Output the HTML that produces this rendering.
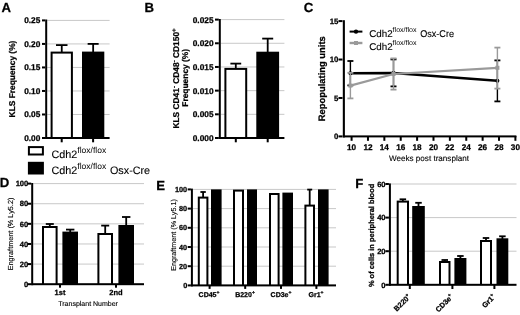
<!DOCTYPE html>
<html><head><meta charset="utf-8"><style>
html,body{margin:0;padding:0;background:#fff;width:520px;height:315px;overflow:hidden;}
svg{display:block;filter:grayscale(1);}
text{font-family:"Liberation Sans", sans-serif;text-rendering:geometricPrecision;stroke:#000;stroke-width:0.25px;}
text.r{stroke-width:0.12px;}
tspan.s{stroke-width:0;}
</style></head><body>
<svg width="520" height="315" viewBox="0 0 520 315" font-family='"Liberation Sans", sans-serif'>
<rect width="520" height="315" fill="#fff"/>
<text x="1.60" y="12.00" font-size="13.2" font-weight="bold" text-anchor="start" fill="#000">A</text>
<rect x="47.20" y="113.98" width="62.40" height="1.00" fill="#c8c8c8"/>
<rect x="47.20" y="90.46" width="62.40" height="1.00" fill="#c8c8c8"/>
<rect x="47.20" y="66.94" width="62.40" height="1.00" fill="#c8c8c8"/>
<rect x="47.20" y="43.42" width="62.40" height="1.00" fill="#c8c8c8"/>
<rect x="47.20" y="19.90" width="62.40" height="1.00" fill="#c8c8c8"/>
<rect x="50.60" y="51.60" width="22.30" height="86.40" fill="#000"/>
<rect x="52.60" y="53.60" width="18.30" height="84.40" fill="#fff"/>
<rect x="60.85" y="45.10" width="1.80" height="7.50" fill="#000"/>
<rect x="56.00" y="44.20" width="11.50" height="1.80" fill="#000"/>
<rect x="82.00" y="51.60" width="22.30" height="86.40" fill="#000"/>
<rect x="92.25" y="43.90" width="1.80" height="8.70" fill="#000"/>
<rect x="87.65" y="43.00" width="11.00" height="1.80" fill="#000"/>
<rect x="45.20" y="19.50" width="2.00" height="119.50" fill="#000"/>
<rect x="45.20" y="137.00" width="64.40" height="2.00" fill="#000"/>
<rect x="42.00" y="137.00" width="3.20" height="2.00" fill="#000"/>
<text x="40.30" y="140.99" font-size="8.3" font-weight="bold" text-anchor="end" fill="#000">0.00</text>
<rect x="42.00" y="113.48" width="3.20" height="2.00" fill="#000"/>
<text x="40.30" y="117.47" font-size="8.3" font-weight="bold" text-anchor="end" fill="#000">0.05</text>
<rect x="42.00" y="89.96" width="3.20" height="2.00" fill="#000"/>
<text x="40.30" y="93.95" font-size="8.3" font-weight="bold" text-anchor="end" fill="#000">0.10</text>
<rect x="42.00" y="66.44" width="3.20" height="2.00" fill="#000"/>
<text x="40.30" y="70.43" font-size="8.3" font-weight="bold" text-anchor="end" fill="#000">0.15</text>
<rect x="42.00" y="42.92" width="3.20" height="2.00" fill="#000"/>
<text x="40.30" y="46.91" font-size="8.3" font-weight="bold" text-anchor="end" fill="#000">0.20</text>
<rect x="42.00" y="19.40" width="3.20" height="2.00" fill="#000"/>
<text x="40.30" y="23.39" font-size="8.3" font-weight="bold" text-anchor="end" fill="#000">0.25</text>
<rect x="60.70" y="138.00" width="2.00" height="4.30" fill="#000"/>
<rect x="92.10" y="138.00" width="2.00" height="4.30" fill="#000"/>
<text x="14.90" y="79.00" font-size="8.4" font-weight="bold" text-anchor="middle" fill="#000" transform="rotate(-90 14.90 79.00)">KLS Frequency (%)</text>
<rect x="27.90" y="146.10" width="16.00" height="9.40" fill="#000"/>
<rect x="29.90" y="148.10" width="12.00" height="5.40" fill="#fff"/>
<rect x="27.90" y="161.80" width="16.00" height="12.70" fill="#000"/>
<text class="r" x="51.5" y="158.4" font-size="10.8">Cdh2<tspan class="s" font-size="8.5" dy="-5.0">flox/flox</tspan></text>
<text class="r" x="51.5" y="173.9" font-size="10.8">Cdh2<tspan class="s" font-size="8.5" dy="-5.0">flox/flox</tspan><tspan dy="5.0" dx="0.8"> Osx-Cre</tspan></text>
<text x="144.40" y="11.50" font-size="13.2" font-weight="bold" text-anchor="start" fill="#000">B</text>
<rect x="220.80" y="113.82" width="63.60" height="1.00" fill="#c8c8c8"/>
<rect x="220.80" y="90.14" width="63.60" height="1.00" fill="#c8c8c8"/>
<rect x="220.80" y="66.46" width="63.60" height="1.00" fill="#c8c8c8"/>
<rect x="220.80" y="42.78" width="63.60" height="1.00" fill="#c8c8c8"/>
<rect x="220.80" y="19.10" width="63.60" height="1.00" fill="#c8c8c8"/>
<rect x="224.40" y="67.90" width="22.80" height="70.10" fill="#000"/>
<rect x="226.40" y="69.90" width="18.80" height="68.10" fill="#fff"/>
<rect x="234.90" y="63.60" width="1.80" height="5.30" fill="#000"/>
<rect x="230.40" y="62.70" width="10.80" height="1.80" fill="#000"/>
<rect x="256.30" y="51.70" width="22.80" height="86.30" fill="#000"/>
<rect x="266.80" y="38.60" width="1.80" height="14.10" fill="#000"/>
<rect x="262.20" y="37.70" width="11.00" height="1.80" fill="#000"/>
<rect x="218.80" y="19.00" width="2.00" height="120.00" fill="#000"/>
<rect x="218.80" y="137.00" width="65.60" height="2.00" fill="#000"/>
<rect x="215.00" y="137.00" width="3.80" height="2.00" fill="#000"/>
<text x="213.50" y="140.99" font-size="8.3" font-weight="bold" text-anchor="end" fill="#000">0.000</text>
<rect x="215.00" y="113.32" width="3.80" height="2.00" fill="#000"/>
<text x="213.50" y="117.31" font-size="8.3" font-weight="bold" text-anchor="end" fill="#000">0.005</text>
<rect x="215.00" y="89.64" width="3.80" height="2.00" fill="#000"/>
<text x="213.50" y="93.63" font-size="8.3" font-weight="bold" text-anchor="end" fill="#000">0.010</text>
<rect x="215.00" y="65.96" width="3.80" height="2.00" fill="#000"/>
<text x="213.50" y="69.95" font-size="8.3" font-weight="bold" text-anchor="end" fill="#000">0.015</text>
<rect x="215.00" y="42.28" width="3.80" height="2.00" fill="#000"/>
<text x="213.50" y="46.27" font-size="8.3" font-weight="bold" text-anchor="end" fill="#000">0.020</text>
<rect x="215.00" y="18.60" width="3.80" height="2.00" fill="#000"/>
<text x="213.50" y="22.59" font-size="8.3" font-weight="bold" text-anchor="end" fill="#000">0.025</text>
<rect x="234.80" y="138.00" width="2.00" height="4.30" fill="#000"/>
<rect x="266.70" y="138.00" width="2.00" height="4.30" fill="#000"/>
<text x="179.3" y="78.5" font-size="8.4" font-weight="bold" text-anchor="middle" transform="rotate(-90 179.3 78.5)">KLS CD41<tspan font-size="6" dy="-3.4">-</tspan><tspan dy="3.4"> CD48</tspan><tspan font-size="6" dy="-3.4">-</tspan><tspan dy="3.4"> CD150</tspan><tspan font-size="6" dy="-3.4">+</tspan></text>
<text x="188.00" y="77.80" font-size="8.4" font-weight="bold" text-anchor="middle" fill="#000" transform="rotate(-90 188.00 77.80)">Frequency (%)</text>
<text x="303.80" y="11.60" font-size="13.2" font-weight="bold" text-anchor="start" fill="#000">C</text>
<rect x="342.80" y="20.20" width="2.10" height="117.20" fill="#000"/>
<rect x="342.80" y="135.40" width="173.60" height="2.00" fill="#000"/>
<rect x="338.50" y="135.40" width="4.00" height="2.00" fill="#000"/>
<text x="338.40" y="139.30" font-size="7.8" font-weight="bold" text-anchor="end" fill="#000">0</text>
<rect x="338.50" y="96.97" width="4.00" height="2.00" fill="#000"/>
<text x="338.40" y="100.87" font-size="7.8" font-weight="bold" text-anchor="end" fill="#000">5</text>
<rect x="338.50" y="58.53" width="4.00" height="2.00" fill="#000"/>
<text x="338.40" y="62.43" font-size="7.8" font-weight="bold" text-anchor="end" fill="#000">10</text>
<rect x="338.50" y="20.09" width="4.00" height="2.00" fill="#000"/>
<text x="338.40" y="23.99" font-size="7.8" font-weight="bold" text-anchor="end" fill="#000">15</text>
<rect x="350.59" y="136.00" width="2.00" height="4.80" fill="#000"/>
<text x="351.59" y="150.00" font-size="8.2" font-weight="bold" text-anchor="middle" fill="#000">10</text>
<rect x="366.97" y="136.00" width="2.00" height="4.80" fill="#000"/>
<text x="367.97" y="150.00" font-size="8.2" font-weight="bold" text-anchor="middle" fill="#000">12</text>
<rect x="383.35" y="136.00" width="2.00" height="4.80" fill="#000"/>
<text x="384.35" y="150.00" font-size="8.2" font-weight="bold" text-anchor="middle" fill="#000">14</text>
<rect x="399.73" y="136.00" width="2.00" height="4.80" fill="#000"/>
<text x="400.73" y="150.00" font-size="8.2" font-weight="bold" text-anchor="middle" fill="#000">16</text>
<rect x="416.11" y="136.00" width="2.00" height="4.80" fill="#000"/>
<text x="417.11" y="150.00" font-size="8.2" font-weight="bold" text-anchor="middle" fill="#000">18</text>
<rect x="432.49" y="136.00" width="2.00" height="4.80" fill="#000"/>
<text x="433.49" y="150.00" font-size="8.2" font-weight="bold" text-anchor="middle" fill="#000">20</text>
<rect x="448.87" y="136.00" width="2.00" height="4.80" fill="#000"/>
<text x="449.87" y="150.00" font-size="8.2" font-weight="bold" text-anchor="middle" fill="#000">22</text>
<rect x="465.25" y="136.00" width="2.00" height="4.80" fill="#000"/>
<text x="466.25" y="150.00" font-size="8.2" font-weight="bold" text-anchor="middle" fill="#000">24</text>
<rect x="481.63" y="136.00" width="2.00" height="4.80" fill="#000"/>
<text x="482.63" y="150.00" font-size="8.2" font-weight="bold" text-anchor="middle" fill="#000">26</text>
<rect x="498.01" y="136.00" width="2.00" height="4.80" fill="#000"/>
<text x="499.01" y="150.00" font-size="8.2" font-weight="bold" text-anchor="middle" fill="#000">28</text>
<rect x="514.39" y="136.00" width="2.00" height="4.80" fill="#000"/>
<text x="515.39" y="150.00" font-size="8.2" font-weight="bold" text-anchor="middle" fill="#000">30</text>
<text class="r" x="429.00" y="161.30" font-size="8.1" font-weight="normal" text-anchor="middle" fill="#000">Weeks post transplant</text>
<text x="325.40" y="78.70" font-size="9.4" font-weight="bold" text-anchor="middle" fill="#000" transform="rotate(-90 325.40 78.70)">Repopulating units</text>
<line x1="350.40" y1="61.00" x2="350.40" y2="85.40" stroke="#000" stroke-width="1.4"/>
<line x1="347.40" y1="61.00" x2="353.40" y2="61.00" stroke="#000" stroke-width="1.8"/>
<line x1="347.40" y1="85.40" x2="353.40" y2="85.40" stroke="#000" stroke-width="1.8"/>
<line x1="393.50" y1="59.40" x2="393.50" y2="86.40" stroke="#000" stroke-width="1.4"/>
<line x1="390.50" y1="59.40" x2="396.50" y2="59.40" stroke="#000" stroke-width="1.8"/>
<line x1="390.50" y1="86.40" x2="396.50" y2="86.40" stroke="#000" stroke-width="1.8"/>
<line x1="497.40" y1="60.40" x2="497.40" y2="101.40" stroke="#000" stroke-width="1.4"/>
<line x1="494.40" y1="60.40" x2="500.40" y2="60.40" stroke="#000" stroke-width="1.8"/>
<line x1="494.40" y1="101.40" x2="500.40" y2="101.40" stroke="#000" stroke-width="1.8"/>
<polyline points="350.40,73.20 393.50,73.00 497.40,80.80" fill="none" stroke="#000" stroke-width="2.4"/>
<circle cx="350.40" cy="73.20" r="2" fill="#000"/>
<circle cx="393.50" cy="73.00" r="2" fill="#000"/>
<circle cx="497.40" cy="80.80" r="2" fill="#000"/>
<line x1="350.40" y1="72.80" x2="350.40" y2="98.40" stroke="#9a9a9a" stroke-width="1.4"/>
<line x1="347.40" y1="72.80" x2="353.40" y2="72.80" stroke="#9a9a9a" stroke-width="1.8"/>
<line x1="347.40" y1="98.40" x2="353.40" y2="98.40" stroke="#9a9a9a" stroke-width="1.8"/>
<line x1="393.50" y1="58.40" x2="393.50" y2="89.60" stroke="#9a9a9a" stroke-width="1.4"/>
<line x1="390.50" y1="58.40" x2="396.50" y2="58.40" stroke="#9a9a9a" stroke-width="1.8"/>
<line x1="390.50" y1="89.60" x2="396.50" y2="89.60" stroke="#9a9a9a" stroke-width="1.8"/>
<line x1="497.40" y1="47.60" x2="497.40" y2="88.60" stroke="#9a9a9a" stroke-width="1.4"/>
<line x1="494.40" y1="47.60" x2="500.40" y2="47.60" stroke="#9a9a9a" stroke-width="1.8"/>
<line x1="494.40" y1="88.60" x2="500.40" y2="88.60" stroke="#9a9a9a" stroke-width="1.8"/>
<polyline points="350.40,85.60 393.50,74.00 497.40,67.80" fill="none" stroke="#9a9a9a" stroke-width="2.2"/>
<rect x="348.40" y="83.60" width="4.00" height="4.00" fill="#9a9a9a"/>
<rect x="391.50" y="72.00" width="4.00" height="4.00" fill="#9a9a9a"/>
<rect x="495.40" y="65.80" width="4.00" height="4.00" fill="#9a9a9a"/>
<line x1="349.60" y1="31.60" x2="362.40" y2="31.60" stroke="#000" stroke-width="2"/>
<circle cx="356" cy="31.6" r="2.2" fill="#000"/>
<line x1="349.60" y1="43.00" x2="362.40" y2="43.00" stroke="#9a9a9a" stroke-width="2.4"/>
<rect x="354.00" y="41.00" width="4.00" height="4.00" fill="#9a9a9a"/>
<text class="r" x="369.2" y="37.1" font-size="9.8">Cdh2<tspan class="s" font-size="7.05" dy="-4.8">flox/flox</tspan></text>
<text class="r" x="420.2" y="37.1" font-size="9.8" textLength="33.8" lengthAdjust="spacingAndGlyphs">Osx-Cre</text>
<text class="r" x="369.2" y="49.6" font-size="9.8">Cdh2<tspan class="s" font-size="7.05" dy="-4.8">flox/flox</tspan></text>
<text x="-0.20" y="187.40" font-size="13.2" font-weight="bold" text-anchor="start" fill="#000">D</text>
<rect x="33.20" y="263.58" width="110.80" height="1.00" fill="#c8c8c8"/>
<rect x="33.20" y="243.46" width="110.80" height="1.00" fill="#c8c8c8"/>
<rect x="33.20" y="223.34" width="110.80" height="1.00" fill="#c8c8c8"/>
<rect x="33.20" y="203.22" width="110.80" height="1.00" fill="#c8c8c8"/>
<rect x="33.20" y="183.10" width="110.80" height="1.00" fill="#c8c8c8"/>
<rect x="42.00" y="226.00" width="15.60" height="58.20" fill="#000"/>
<rect x="44.00" y="228.00" width="11.60" height="56.20" fill="#fff"/>
<rect x="48.90" y="224.00" width="1.80" height="3.00" fill="#000"/>
<rect x="45.80" y="223.10" width="8.00" height="1.80" fill="#000"/>
<rect x="62.40" y="231.60" width="15.60" height="52.60" fill="#000"/>
<rect x="69.30" y="229.60" width="1.80" height="3.00" fill="#000"/>
<rect x="66.00" y="228.70" width="8.40" height="1.80" fill="#000"/>
<rect x="97.40" y="233.00" width="15.60" height="51.20" fill="#000"/>
<rect x="99.40" y="235.00" width="11.60" height="49.20" fill="#fff"/>
<rect x="104.30" y="225.60" width="1.80" height="8.40" fill="#000"/>
<rect x="101.20" y="224.70" width="8.00" height="1.80" fill="#000"/>
<rect x="118.40" y="225.00" width="15.60" height="59.20" fill="#000"/>
<rect x="125.30" y="217.00" width="1.80" height="9.00" fill="#000"/>
<rect x="122.00" y="216.10" width="8.40" height="1.80" fill="#000"/>
<rect x="31.20" y="183.00" width="2.00" height="102.20" fill="#000"/>
<rect x="31.20" y="283.20" width="112.80" height="2.00" fill="#000"/>
<rect x="27.40" y="283.20" width="3.80" height="2.00" fill="#000"/>
<text x="28.30" y="286.94" font-size="7.6" font-weight="bold" text-anchor="end" fill="#000">0</text>
<rect x="27.40" y="263.08" width="3.80" height="2.00" fill="#000"/>
<text x="28.30" y="266.82" font-size="7.6" font-weight="bold" text-anchor="end" fill="#000">20</text>
<rect x="27.40" y="242.96" width="3.80" height="2.00" fill="#000"/>
<text x="28.30" y="246.70" font-size="7.6" font-weight="bold" text-anchor="end" fill="#000">40</text>
<rect x="27.40" y="222.84" width="3.80" height="2.00" fill="#000"/>
<text x="28.30" y="226.58" font-size="7.6" font-weight="bold" text-anchor="end" fill="#000">60</text>
<rect x="27.40" y="202.72" width="3.80" height="2.00" fill="#000"/>
<text x="28.30" y="206.46" font-size="7.6" font-weight="bold" text-anchor="end" fill="#000">80</text>
<rect x="27.40" y="182.60" width="3.80" height="2.00" fill="#000"/>
<text x="28.30" y="186.34" font-size="7.6" font-weight="bold" text-anchor="end" fill="#000">100</text>
<rect x="59.00" y="284.20" width="2.00" height="3.50" fill="#000"/>
<rect x="115.00" y="284.20" width="2.00" height="3.50" fill="#000"/>
<text x="60.00" y="295.40" font-size="7.5" font-weight="bold" text-anchor="middle" fill="#000">1st</text>
<text x="116.00" y="295.40" font-size="7.5" font-weight="bold" text-anchor="middle" fill="#000">2nd</text>
<text class="r" x="88.10" y="305.80" font-size="7.0" font-weight="normal" text-anchor="middle" fill="#000">Transplant Number</text>
<text class="r" x="13.00" y="234.00" font-size="7.3" font-weight="normal" text-anchor="middle" fill="#000" transform="rotate(-90 13.00 234.00)">Engraftment (% Ly5.2)</text>
<text x="156.30" y="189.70" font-size="13.2" font-weight="bold" text-anchor="start" fill="#000">E</text>
<rect x="192.90" y="265.70" width="143.10" height="1.00" fill="#c8c8c8"/>
<rect x="192.90" y="246.50" width="143.10" height="1.00" fill="#c8c8c8"/>
<rect x="192.90" y="227.30" width="143.10" height="1.00" fill="#c8c8c8"/>
<rect x="192.90" y="208.10" width="143.10" height="1.00" fill="#c8c8c8"/>
<rect x="192.90" y="188.90" width="143.10" height="1.00" fill="#c8c8c8"/>
<rect x="197.80" y="196.60" width="10.60" height="88.80" fill="#000"/>
<rect x="199.80" y="198.60" width="6.60" height="86.80" fill="#fff"/>
<rect x="202.20" y="192.00" width="1.80" height="5.60" fill="#000"/>
<rect x="200.40" y="191.10" width="5.40" height="1.80" fill="#000"/>
<rect x="211.00" y="189.40" width="10.60" height="96.00" fill="#000"/>
<rect x="233.00" y="189.60" width="11.00" height="95.80" fill="#000"/>
<rect x="235.00" y="191.60" width="7.00" height="93.80" fill="#fff"/>
<rect x="247.00" y="189.40" width="10.00" height="96.00" fill="#000"/>
<rect x="269.00" y="193.00" width="10.60" height="92.40" fill="#000"/>
<rect x="271.00" y="195.00" width="6.60" height="90.40" fill="#fff"/>
<rect x="282.40" y="192.60" width="10.60" height="92.80" fill="#000"/>
<rect x="304.40" y="204.60" width="10.60" height="80.80" fill="#000"/>
<rect x="306.40" y="206.60" width="6.60" height="78.80" fill="#fff"/>
<rect x="308.80" y="189.60" width="1.80" height="16.00" fill="#000"/>
<rect x="307.20" y="188.70" width="5.00" height="1.80" fill="#000"/>
<rect x="318.00" y="189.40" width="10.60" height="96.00" fill="#000"/>
<rect x="190.90" y="188.60" width="2.00" height="97.80" fill="#000"/>
<rect x="190.90" y="284.40" width="145.10" height="2.00" fill="#000"/>
<rect x="187.70" y="284.40" width="3.20" height="2.00" fill="#000"/>
<text x="187.20" y="288.03" font-size="7.3" font-weight="bold" text-anchor="end" fill="#000">0</text>
<rect x="187.70" y="265.20" width="3.20" height="2.00" fill="#000"/>
<text x="187.20" y="268.83" font-size="7.3" font-weight="bold" text-anchor="end" fill="#000">20</text>
<rect x="187.70" y="246.00" width="3.20" height="2.00" fill="#000"/>
<text x="187.20" y="249.63" font-size="7.3" font-weight="bold" text-anchor="end" fill="#000">40</text>
<rect x="187.70" y="226.80" width="3.20" height="2.00" fill="#000"/>
<text x="187.20" y="230.43" font-size="7.3" font-weight="bold" text-anchor="end" fill="#000">60</text>
<rect x="187.70" y="207.60" width="3.20" height="2.00" fill="#000"/>
<text x="187.20" y="211.23" font-size="7.3" font-weight="bold" text-anchor="end" fill="#000">80</text>
<rect x="187.70" y="188.40" width="3.20" height="2.00" fill="#000"/>
<text x="187.20" y="192.03" font-size="7.3" font-weight="bold" text-anchor="end" fill="#000">100</text>
<rect x="208.60" y="285.40" width="2.00" height="3.50" fill="#000"/>
<rect x="244.20" y="285.40" width="2.00" height="3.50" fill="#000"/>
<rect x="280.00" y="285.40" width="2.00" height="3.50" fill="#000"/>
<rect x="315.40" y="285.40" width="2.00" height="3.50" fill="#000"/>
<text x="209" y="297" font-size="7" font-weight="bold" text-anchor="middle">CD45<tspan font-size="5" dy="-3">+</tspan></text>
<text x="245" y="297" font-size="7" font-weight="bold" text-anchor="middle">B220<tspan font-size="5" dy="-3">+</tspan></text>
<text x="281" y="297" font-size="7" font-weight="bold" text-anchor="middle">CD3e<tspan font-size="5" dy="-3">+</tspan></text>
<text x="316" y="297" font-size="7" font-weight="bold" text-anchor="middle">Gr1<tspan font-size="5" dy="-3">+</tspan></text>
<text class="r" x="176.20" y="235.00" font-size="7.2" font-weight="normal" text-anchor="middle" fill="#000" transform="rotate(-90 176.20 235.00)">Engraftment (% Ly5.1)</text>
<text x="355.20" y="188.00" font-size="13.2" font-weight="bold" text-anchor="start" fill="#000">F</text>
<rect x="390.90" y="250.70" width="125.60" height="1.00" fill="#c8c8c8"/>
<rect x="390.90" y="217.10" width="125.60" height="1.00" fill="#c8c8c8"/>
<rect x="390.90" y="183.50" width="125.60" height="1.00" fill="#c8c8c8"/>
<rect x="396.70" y="200.60" width="12.30" height="84.20" fill="#000"/>
<rect x="398.70" y="202.60" width="8.30" height="82.20" fill="#fff"/>
<rect x="401.95" y="199.30" width="1.80" height="2.30" fill="#000"/>
<rect x="399.60" y="198.40" width="6.50" height="1.80" fill="#000"/>
<rect x="412.20" y="206.00" width="12.60" height="78.80" fill="#000"/>
<rect x="417.60" y="202.80" width="1.80" height="4.20" fill="#000"/>
<rect x="415.25" y="201.90" width="6.50" height="1.80" fill="#000"/>
<rect x="439.00" y="261.00" width="11.50" height="23.80" fill="#000"/>
<rect x="441.00" y="263.00" width="7.50" height="21.80" fill="#fff"/>
<rect x="443.85" y="260.00" width="1.80" height="2.00" fill="#000"/>
<rect x="441.50" y="259.10" width="6.50" height="1.80" fill="#000"/>
<rect x="454.40" y="258.00" width="12.00" height="26.80" fill="#000"/>
<rect x="459.50" y="256.00" width="1.80" height="3.00" fill="#000"/>
<rect x="457.15" y="255.10" width="6.50" height="1.80" fill="#000"/>
<rect x="480.00" y="240.00" width="12.00" height="44.80" fill="#000"/>
<rect x="482.00" y="242.00" width="8.00" height="42.80" fill="#fff"/>
<rect x="485.10" y="238.00" width="1.80" height="3.00" fill="#000"/>
<rect x="482.75" y="237.10" width="6.50" height="1.80" fill="#000"/>
<rect x="496.50" y="238.30" width="11.80" height="46.50" fill="#000"/>
<rect x="501.50" y="236.30" width="1.80" height="3.00" fill="#000"/>
<rect x="499.15" y="235.40" width="6.50" height="1.80" fill="#000"/>
<rect x="388.90" y="183.40" width="2.00" height="102.40" fill="#000"/>
<rect x="388.90" y="283.80" width="127.60" height="2.00" fill="#000"/>
<rect x="385.40" y="283.80" width="3.50" height="2.00" fill="#000"/>
<text x="385.60" y="287.54" font-size="7.6" font-weight="bold" text-anchor="end" fill="#000">0</text>
<rect x="385.40" y="250.20" width="3.50" height="2.00" fill="#000"/>
<text x="385.60" y="253.94" font-size="7.6" font-weight="bold" text-anchor="end" fill="#000">20</text>
<rect x="385.40" y="216.60" width="3.50" height="2.00" fill="#000"/>
<text x="385.60" y="220.34" font-size="7.6" font-weight="bold" text-anchor="end" fill="#000">40</text>
<rect x="385.40" y="183.00" width="3.50" height="2.00" fill="#000"/>
<text x="385.60" y="186.74" font-size="7.6" font-weight="bold" text-anchor="end" fill="#000">60</text>
<rect x="408.80" y="284.80" width="2.00" height="4.20" fill="#000"/>
<rect x="451.40" y="284.80" width="2.00" height="4.20" fill="#000"/>
<rect x="493.40" y="284.80" width="2.00" height="4.20" fill="#000"/>
<text x="373.60" y="235.40" font-size="7.45" font-weight="bold" text-anchor="middle" fill="#000" transform="rotate(-90 373.60 235.40)">% of cells in peripheral blood</text>
<text x="411.20" y="297.30" font-size="7.3" font-weight="bold" text-anchor="end" transform="rotate(-45 411.20 297.30)">B220<tspan font-size="5" dy="-3">+</tspan></text>
<text x="453.80" y="297.30" font-size="7.3" font-weight="bold" text-anchor="end" transform="rotate(-45 453.80 297.30)">CD3e<tspan font-size="5" dy="-3">+</tspan></text>
<text x="496.00" y="297.30" font-size="7.3" font-weight="bold" text-anchor="end" transform="rotate(-45 496.00 297.30)">Gr1<tspan font-size="5" dy="-3">+</tspan></text>
</svg>
</body></html>
